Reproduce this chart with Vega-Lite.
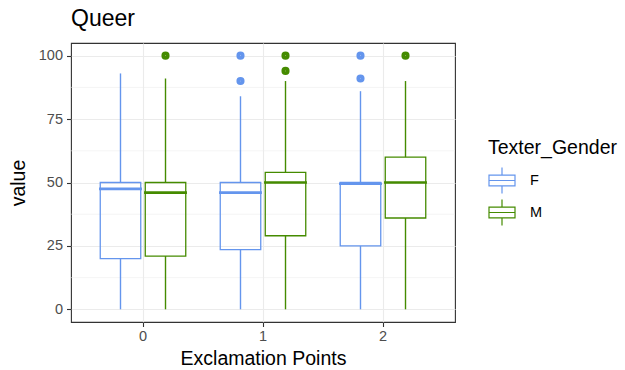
{
  "$schema": "https://vega.github.io/schema/vega-lite/v6.json",
  "autosize": {"type": "none"},
  "width": 384,
  "height": 279,
  "padding": {"left": 71, "top": 43, "right": 170, "bottom": 48},
  "title": {"text": "Queer", "anchor": "start", "frame": "group", "fontSize": 23, "font": "Liberation Sans", "fontWeight": "normal", "color": "#000000", "offset": 12},
  "config": {
    "font": "Liberation Sans",
    "view": {"stroke": "#333333", "strokeWidth": 1.1},
    "axis": {"labelFont": "Liberation Sans", "titleFont": "Liberation Sans", "labelFontSize": 14.5, "labelColor": "#4d4d4d", "titleFontSize": 19.5, "titleFontWeight": "normal", "titleColor": "#000000", "tickColor": "#333333", "tickSize": 4.5, "tickWidth": 1.1, "domain": false, "gridColor": "#ebebeb", "gridWidth": 1.1}
  },
  "datasets": {
    "box": [
      {"ep": "0", "g": "F", "lo": 0, "q1": 20, "med": 47.5, "q3": 50, "hi": 93},
      {"ep": "0", "g": "M", "lo": 0, "q1": 21, "med": 46, "q3": 50, "hi": 91},
      {"ep": "1", "g": "F", "lo": 0, "q1": 23.5, "med": 46, "q3": 50, "hi": 84},
      {"ep": "1", "g": "M", "lo": 0, "q1": 29, "med": 50, "q3": 54, "hi": 90},
      {"ep": "2", "g": "F", "lo": 0, "q1": 25, "med": 49.5, "q3": 50, "hi": 86},
      {"ep": "2", "g": "M", "lo": 0, "q1": 36, "med": 50, "q3": 60, "hi": 90}
    ],
    "out": [
      {"ep": "0", "g": "M", "v": 100},
      {"ep": "1", "g": "F", "v": 100},
      {"ep": "1", "g": "F", "v": 90},
      {"ep": "1", "g": "M", "v": 100},
      {"ep": "1", "g": "M", "v": 94},
      {"ep": "2", "g": "F", "v": 100},
      {"ep": "2", "g": "F", "v": 91},
      {"ep": "2", "g": "M", "v": 100}
    ],
    "minor": [{"v": 12.5}, {"v": 37.5}, {"v": 62.5}, {"v": 87.5}]
  },
  "encoding": {
    "y": {"type": "quantitative", "title": "value",
      "scale": {"domain": [-5, 105], "nice": false, "zero": false},
      "axis": {"values": [0, 25, 50, 75, 100], "grid": true, "labelPadding": 4, "titlePadding": 10}}
  },
  "layer": [
    {
      "data": {"name": "minor"},
      "mark": {"type": "rule", "color": "#ebebeb", "strokeWidth": 0.55},
      "encoding": {"y": {"field": "v", "type": "quantitative"}}
    },
    {
      "data": {"name": "box"},
      "mark": {"type": "bar", "filled": false, "strokeWidth": 1.3, "width": 40.5},
      "encoding": {
        "x": {"field": "ep", "type": "nominal", "title": "Exclamation Points",
          "scale": {"type": "band", "domain": ["0", "1", "2"], "paddingInner": 0, "paddingOuter": 0.1},
          "axis": {"labelAngle": 0, "grid": true, "bandPosition": 0.5, "labelPadding": 3, "titlePadding": 6}},
        "xOffset": {"field": "g", "type": "nominal", "scale": {"domain": ["F", "M"], "paddingInner": 0.1, "paddingOuter": 0.383}},
        "y": {"field": "q1", "type": "quantitative"},
        "y2": {"field": "q3"},
        "stroke": {"field": "g", "type": "nominal", "title": "Texter_Gender",
          "scale": {"domain": ["F", "M"], "range": ["#6495ED", "#458B00"]},
          "legend": {"orient": "none", "legendX": 417, "legendY": 96, "titleFontSize": 19.5, "titleFontWeight": "normal", "titleColor": "#000000", "titleFont": "Liberation Sans", "titlePadding": 8, "labelFontSize": 14.5, "labelFont": "Liberation Sans", "labelColor": "#000000", "labelOffset": 14, "symbolType": "M-1,-0.42H1V0.42H-1Z M-1,0H1 M0,-0.42V-1 M0,0.42V1", "symbolSize": 676, "symbolStrokeWidth": 1.2, "rowPadding": 0}}
      }
    },
    {
      "data": {"name": "box"},
      "mark": {"type": "rule", "strokeWidth": 1.4},
      "encoding": {
        "x": {"field": "ep", "type": "nominal"},
        "xOffset": {"field": "g", "type": "nominal"},
        "y": {"field": "lo", "type": "quantitative"},
        "y2": {"field": "q1"},
        "stroke": {"field": "g", "type": "nominal"}
      }
    },
    {
      "data": {"name": "box"},
      "mark": {"type": "rule", "strokeWidth": 1.4},
      "encoding": {
        "x": {"field": "ep", "type": "nominal"},
        "xOffset": {"field": "g", "type": "nominal"},
        "y": {"field": "q3", "type": "quantitative"},
        "y2": {"field": "hi"},
        "stroke": {"field": "g", "type": "nominal"}
      }
    },
    {
      "data": {"name": "box"},
      "mark": {"type": "tick", "filled": false, "size": 40.5, "thickness": 0.2, "strokeWidth": 2.4, "opacity": 1},
      "encoding": {
        "x": {"field": "ep", "type": "nominal"},
        "xOffset": {"field": "g", "type": "nominal"},
        "y": {"field": "med", "type": "quantitative"},
        "stroke": {"field": "g", "type": "nominal"}
      }
    },
    {
      "data": {"name": "out"},
      "mark": {"type": "point", "filled": false, "shape": "circle", "size": 14, "strokeWidth": 4.4, "opacity": 1},
      "encoding": {
        "x": {"field": "ep", "type": "nominal"},
        "xOffset": {"field": "g", "type": "nominal"},
        "y": {"field": "v", "type": "quantitative"},
        "stroke": {"field": "g", "type": "nominal"}
      }
    }
  ]
}
